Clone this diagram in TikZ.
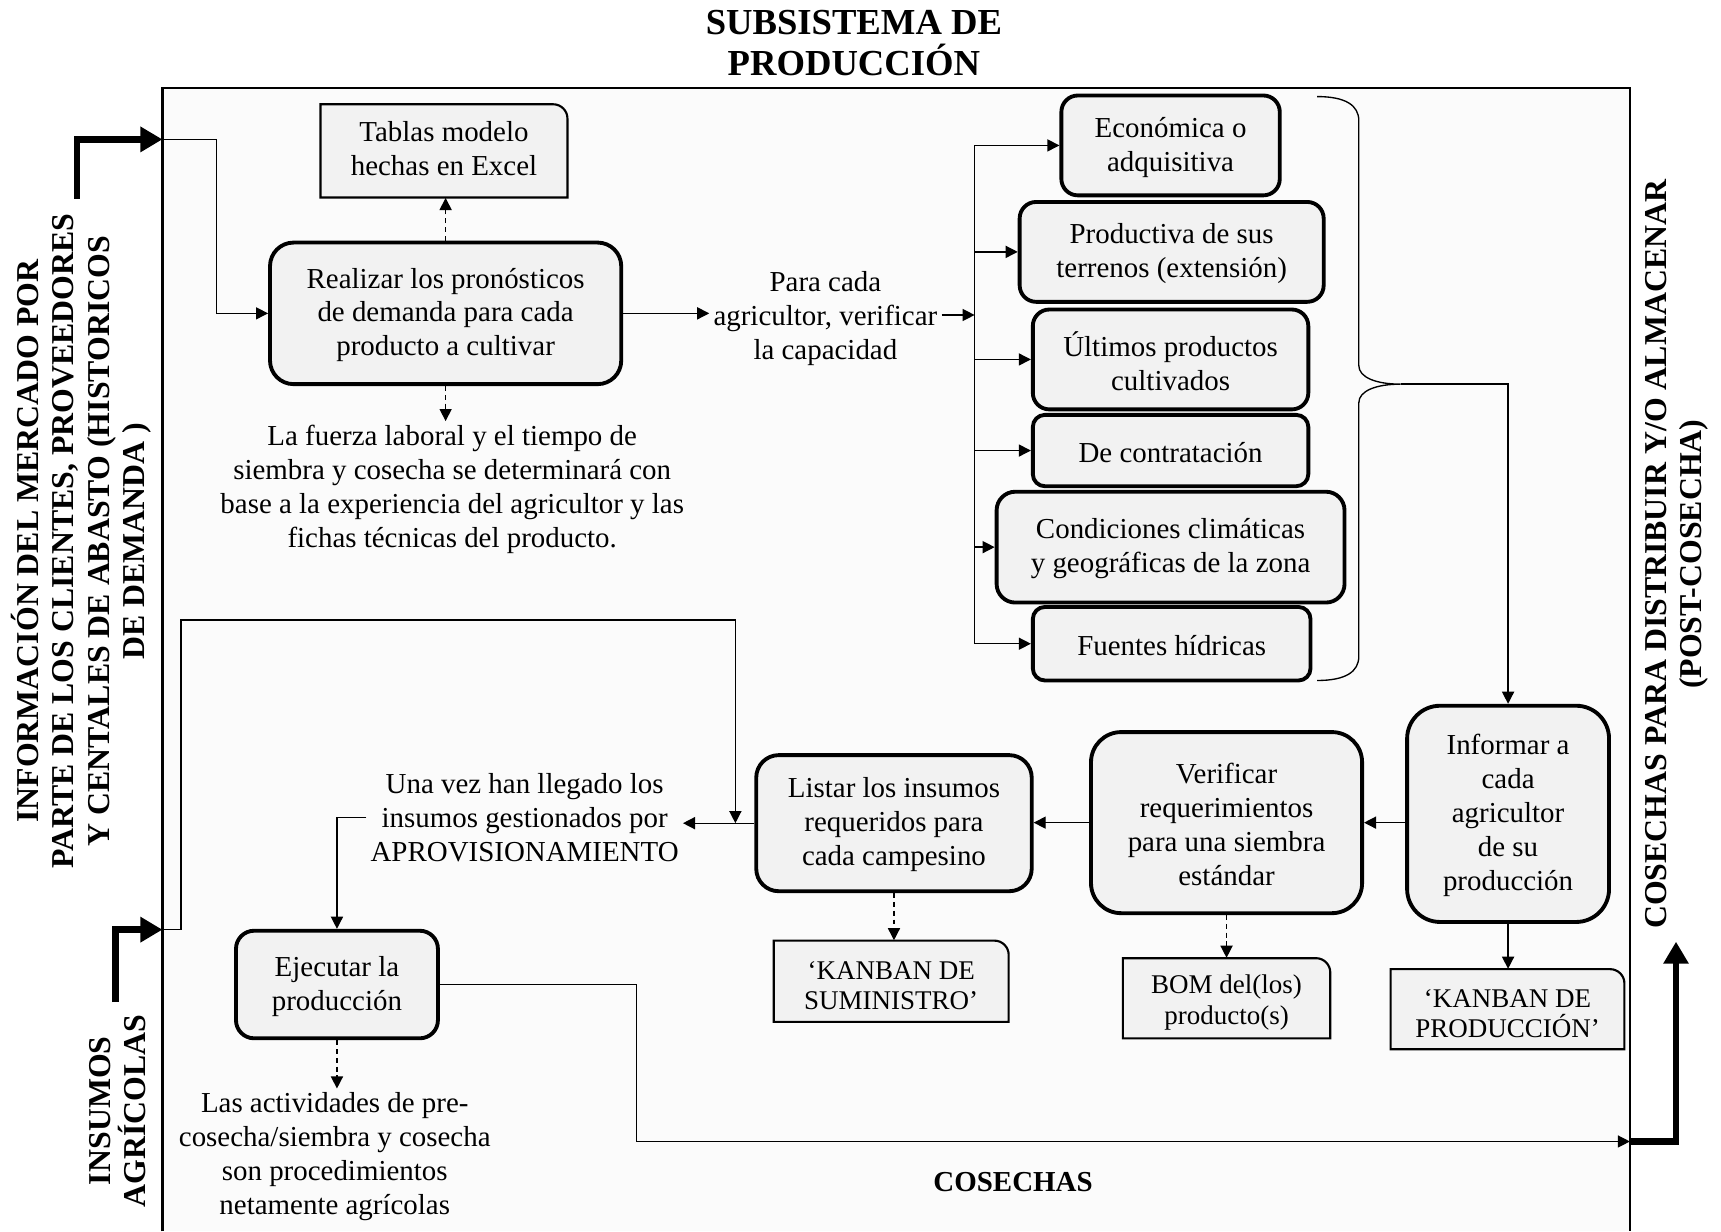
\documentclass[tikz,border=0pt]{standalone}
\usepackage{fontspec}
\setmainfont{Liberation Serif}
\usetikzlibrary{arrows.meta, positioning, fit, calc}
\definecolor{boxfill}{HTML}{F2F2F2}
\definecolor{framefill}{HTML}{FBFBFB}

\begin{document}
\begin{tikzpicture}[
    x=0.2mm, y=0.2mm,
    font=\fontsize{15}{17.6}\selectfont,
    flow/.style={-{Triangle[length=2.2mm, width=2.2mm]}, line width=0.7pt},
    dashflow/.style={flow, dash pattern=on 0.9mm off 0.7mm},
    bigarrow/.style={-{Triangle[length=4mm, width=4.4mm]}, line width=3.4pt},
    procbox/.style={draw, line width=2pt, fill=boxfill, rounded corners=#1, inner sep=0pt},
    procbox/.default=3mm,
    boxtext/.style={align=center, inner sep=0pt, yshift=-0.3mm},
    tagline/.style={draw, line width=1.1pt, fill=boxfill},
    tagtext/.style={align=center, inner sep=0pt},
    smalltag/.style={font=\fontsize{14}{15.8}\selectfont, yshift=-0.8mm},
    note/.style={align=center, inner sep=2pt},
    sidelabel/.style={align=center, rotate=90,
        font=\fontsize{16.5}{18.3}\selectfont\bfseries},
    ]

    % ── Page and outer frame ──
    \useasboundingbox (0,0) rectangle (1568,-1122);
    \def\tagr{13}   % radius of the single rounded corner
    \fill[framefill] (148,-80) rectangle (1485,-1122);
    \draw[line width=1.1pt] (148,-1122) -- (148,-80) -- (1485,-80) -- (1485,-1122);

    % ── Helper: rounded process box ──
    % Args: [radius], name, top left, bottom right, text
    \newcommand{\drawproc}[5][3mm]{
        \node[procbox=#1, fit={(#3) (#4)}] (#2) {};
        \node[boxtext] (#2-t) at (#2.center) {#5};
    }
    % ── Helper: box with only its top right corner rounded ──
    % Args: [text options], name, left, top, right, bottom, text
    \newcommand{\drawtag}[7][]{
        \filldraw[tagline] (#3,#6) -- (#3,#4) -- (#5-\tagr,#4)
            arc[start angle=90, end angle=0, radius=\tagr] -- (#5,#6) -- cycle;
        \node[inner sep=0pt, fit={(#3,#4) (#5,#6)}] (#2) {};
        \node[tagtext, #1] (#2-t) at (#2.center) {#7};
    }

    % ── Titles outside the frame ──
    \node[align=center, font=\fontsize{19}{21.5}\selectfont\bfseries] (title) at (778,-39)
        {SUBSISTEMA DE\\PRODUCCIÓN};
    \node[sidelabel] (info) at (74,-493)
        {INFORMACIÓN DEL MERCADO POR\\PARTE DE LOS CLIENTES, PROVEEDORES\\Y CENTALES DE ABASTO (HISTORICOS\\DE DEMANDA )};
    \node[sidelabel] (insumos) at (107,-1012) {INSUMOS\\AGRÍCOLAS};
    \node[sidelabel] (salida) at (1528,-505)
        {COSECHAS PARA DISTRIBUIR Y/O ALMACENAR\\(POST-COSECHA)};

    % ── Planning row ──
    \drawtag[yshift=0.4mm]{tablas}{292}{-95}{517}{-180}{Tablas modelo\\hechas en Excel}
    \drawproc[4.3mm]{realizar}{246,-221}{566,-350}
        {Realizar los pronósticos\\de demanda para cada\\producto a cultivar}
    \node[note] (fuerza) at (412,-446)
        {La fuerza laboral y el tiempo de\\siembra y cosecha se determinará con\\base a la experiencia del agricultor y las\\fichas técnicas del producto.};
    \node[note] (capacidad) at (752,-290) {Para cada\\agricultor, verificar\\la capacidad};

    % capacity criteria
    \drawproc{economica}{967,-87}{1166,-178}{Económica o\\adquisitiva}
    \drawproc{productiva}{929,-184}{1206,-275}{Productiva de sus\\terrenos (extensión)}
    \drawproc{ultimos}{941,-282}{1192,-373}{Últimos productos\\cultivados}
    \drawproc[2.2mm]{contratacion}{941,-378}{1192,-443}{De contratación}
    \drawproc[3.4mm]{condiciones}{908,-448}{1225,-549}{Condiciones climáticas\\y geográficas de la zona}
    \drawproc[2.2mm]{fuentes}{941,-553}{1194,-620}{Fuentes hídricas}

    % ── Execution row ──
    \drawproc[6mm]{informar}{1282,-643}{1466,-840}
        {Informar a\\cada\\agricultor\\de su\\producción}
    \drawtag[smalltag]{kprod}{1267}{-883}{1480}{-956}{‘KANBAN DE\\PRODUCCIÓN’}
    \drawproc[5.5mm]{verificar}{994,-667}{1241,-832}
        {Verificar\\requerimientos\\para una siembra\\estándar}
    \drawtag[smalltag]{bom}{1023}{-873}{1212}{-946}{BOM del(los)\\producto(s)}
    \drawproc[4.1mm]{listar}{689,-688}{940,-812}
        {Listar los insumos\\requeridos para\\cada campesino}
    \drawtag[smalltag]{ksum}{705}{-857}{919}{-931}{‘KANBAN DE\\SUMINISTRO’}
    \node[note] (llegada) at (478,-745)
        {Una vez han llegado los\\insumos gestionados por\\APROVISIONAMIENTO};
    \drawproc[3.3mm]{ejecutar}{215,-848}{399,-946}{Ejecutar la\\producción}
    \node[note] (actividades) at (305,-1054)
        {Las actividades de pre-\\cosecha/siembra y cosecha\\son procedimientos\\netamente agrícolas};
    \node[font=\fontsize{15}{17.6}\selectfont\bfseries] (cosechas) at (923,-1077) {COSECHAS};

    % ── Coordinates for free ends ──
    \coordinate (infoin) at (148,-127);
    \coordinate (insumosin) at (148,-847);
    \coordinate (cosechasout) at (1485,-1040);
    \coordinate (bus) at (888,-287);
    \coordinate (junction) at (670,-750);
    \coordinate (bracetip) at (1276,-350);

    % ── Inputs and output ──
    \draw[bigarrow] (70,-181) |- (infoin);
    \draw[bigarrow] (105,-913) |- (insumosin);
    \draw[bigarrow] (cosechasout) -| (1527,-858);

    % ── Connectors ──
    \draw[flow] (infoin) -- ++(49,0) |- (realizar.west);
    \draw[dashflow] (realizar.north) -- (realizar.north |- tablas.south);
    \draw[dashflow] (realizar.south) -- (realizar.south |- fuerza.north);
    \draw[flow] (realizar.east) -- (realizar.east -| capacidad.west);
    \draw[flow] (capacidad.east |- bus) -- (bus);
    \draw (bus |- economica.west) -- (bus |- fuentes.west);
    \foreach \n in {economica, productiva, ultimos, contratacion, condiciones, fuentes} {
        \draw[flow] (bus |- \n.west) -- (\n.west);
    }

    % brace round the criteria
    \draw[line width=0.7pt] (1200,-88) .. controls (1226,-88) and (1238,-96) .. (1238,-110)
        -- (1238,-333) .. controls (1238,-344) and (1254,-350) .. (bracetip)
        .. controls (1254,-350) and (1238,-356) .. (1238,-367)
        -- (1238,-598) .. controls (1238,-612) and (1226,-620) .. (1200,-620);
    \draw[flow] (bracetip) -| (informar.north);

    \draw[flow] (informar.south) -- (informar.south |- kprod.north);
    \draw[flow] (informar.west |- verificar.east) -- (verificar.east);
    \draw[dashflow] (verificar.south) -- (verificar.south |- bom.north);
    \draw[flow] (verificar.west) -- (verificar.west -| listar.east);
    \draw[dashflow] (listar.south) -- (listar.south |- ksum.north);
    \draw[flow] (listar.west) -- (listar.west -| llegada.east);
    \draw[flow] (insumosin) -- ++(17,0) |- (420,-565) -| (junction);
    \draw[flow] (llegada.west) -| (ejecutar.north);
    \draw[dashflow] (ejecutar.south) -- (ejecutar.south |- actividades.north);
    \draw[flow] (ejecutar.east) -- ++(179,0) |- (cosechasout);

\end{tikzpicture}
\end{document}
